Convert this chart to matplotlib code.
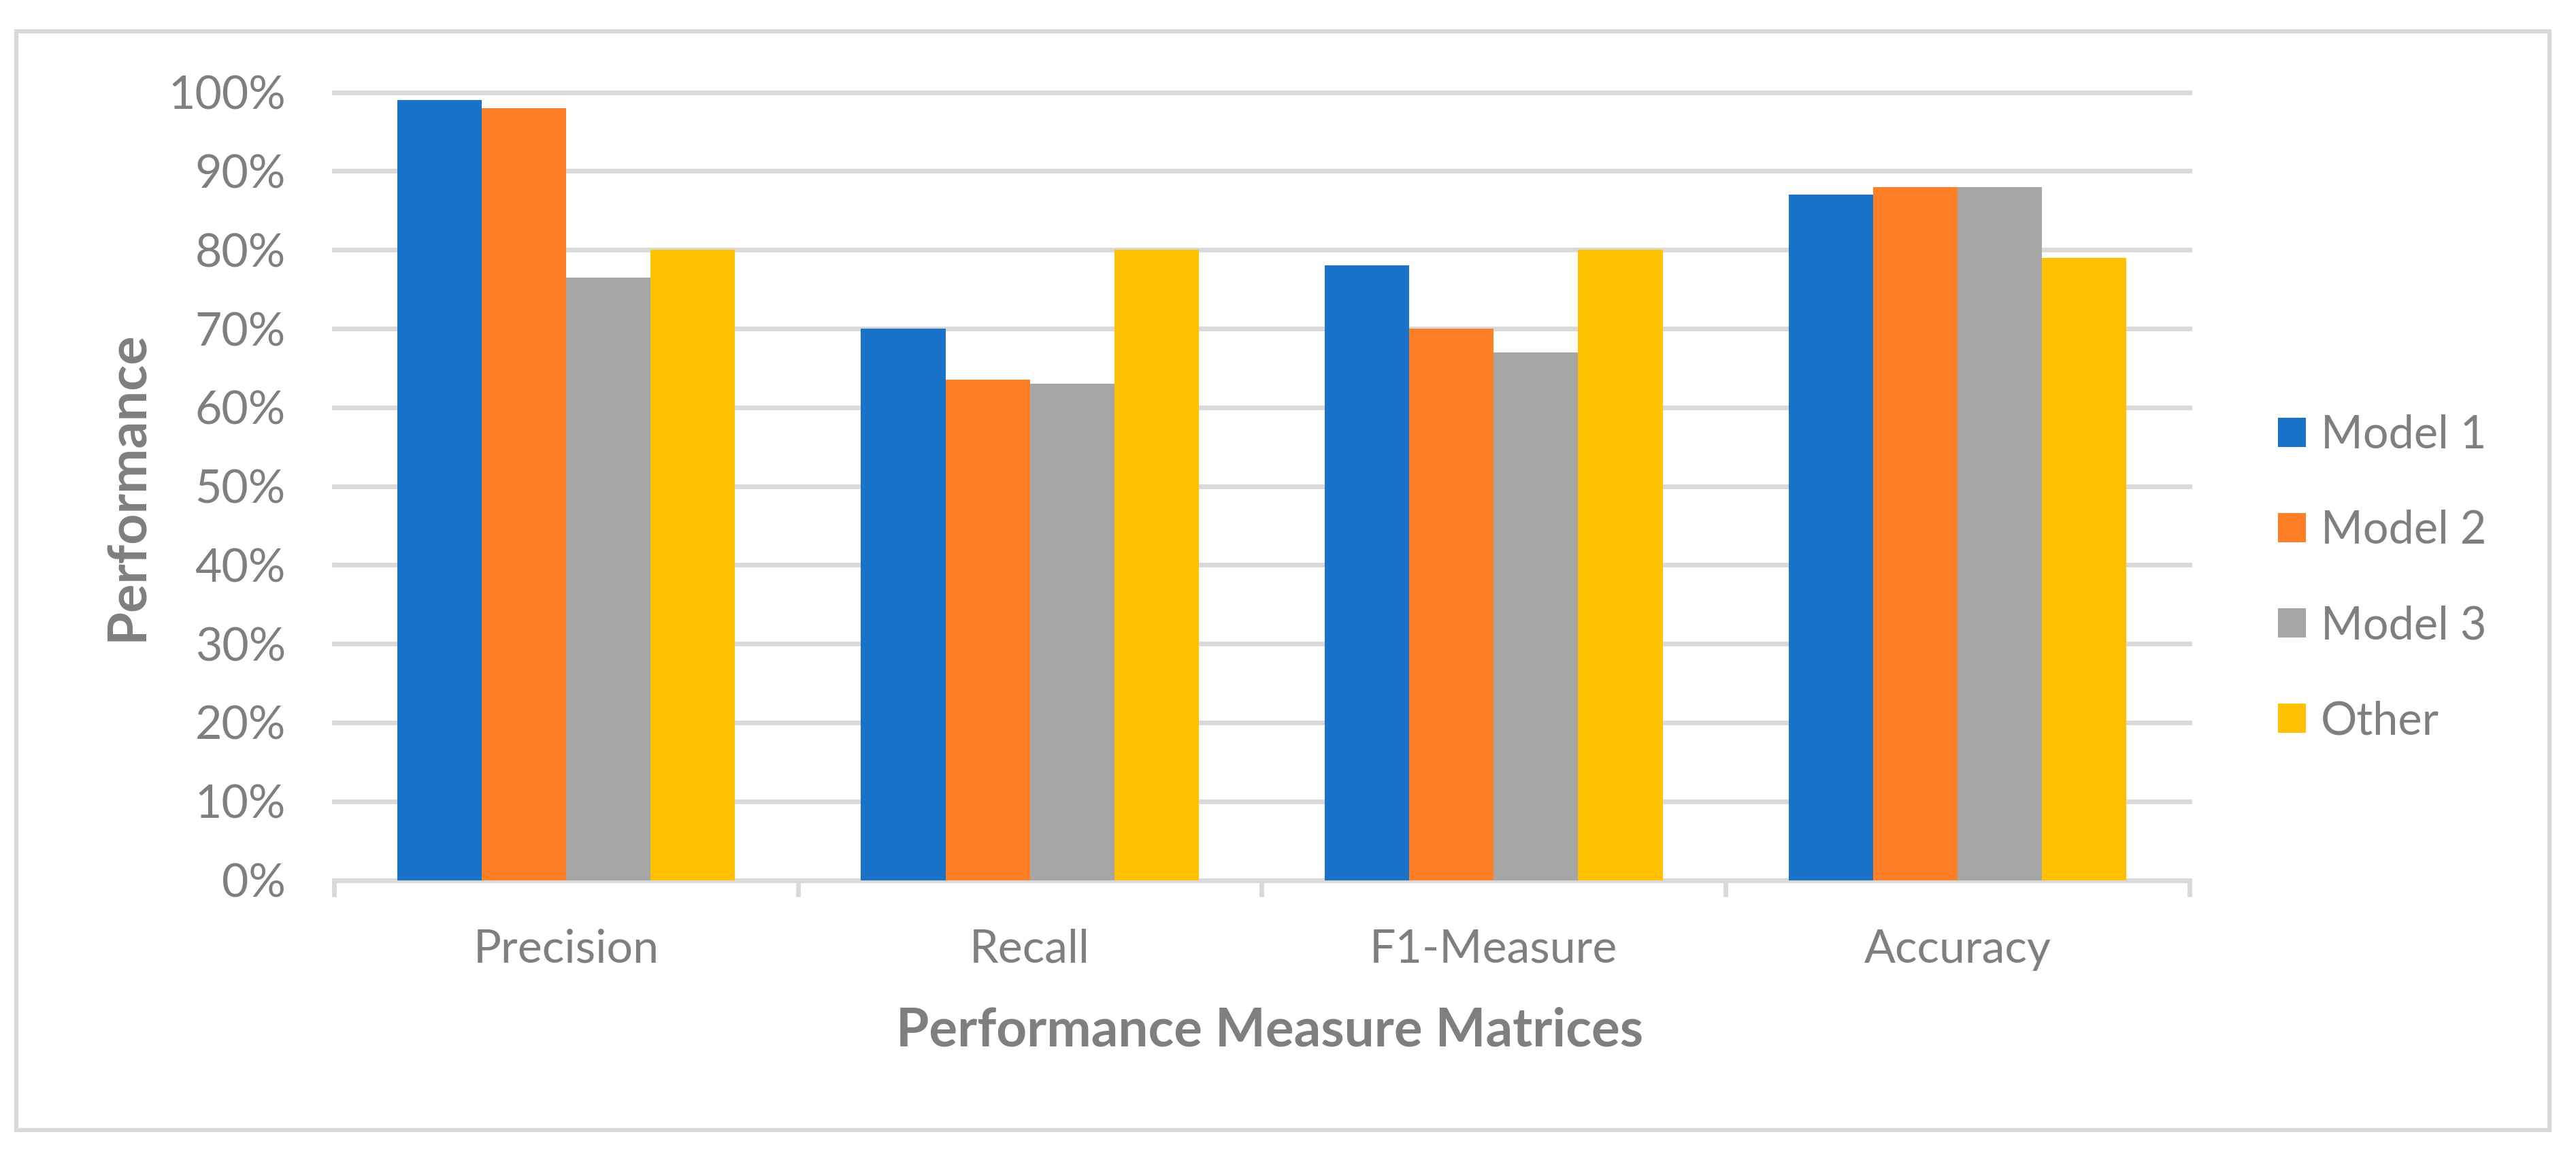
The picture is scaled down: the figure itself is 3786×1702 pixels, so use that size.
import numpy as np, matplotlib
matplotlib.use("Agg")
import matplotlib.pyplot as plt
from matplotlib.patches import Rectangle

categories = ["Precision", "Recall", "F1-Measure", "Accuracy"]
series = ["Model 1", "Model 2", "Model 3", "Other"]
model1 = [0.99, 0.70, 0.78, 0.87]
model2 = [0.98, 0.635, 0.70, 0.88]
model3 = [0.765, 0.63, 0.67, 0.88]
other = [0.80, 0.80, 0.80, 0.79]
colors = ['#1873C9', '#FF7F27', '#A6A6A6', '#FFC000']
yticks = np.arange(0, 1.01, 0.1)

txt = '#7F7F7F'; grid = '#D9D9D9'
plt.rcParams['font.family'] = ['Lato', 'DejaVu Sans']

W, H = 3786, 1702
fig = plt.figure(figsize=(W/200, H/200), dpi=200)
ax = fig.add_axes([491/W, 1-1293.5/H, (3218-491)/W, (1293.5-135.7)/H])

x = np.arange(len(categories)); w = 0.182
for i, (vals, c, lab) in enumerate(zip([model1, model2, model3, other], colors, series)):
    ax.bar(x + (i-1.5)*w, vals, w, color=c, label=lab, linewidth=0, zorder=3)

ax.set_xlim(-0.5, len(categories)-0.5); ax.set_ylim(0, 1)
ax.set_yticks(yticks)
ax.set_yticklabels([f"{int(round(v*100))}%" for v in yticks])
ax.yaxis.grid(True, color=grid, lw=2.5)
for gl in ax.yaxis.get_gridlines(): gl.set_clip_on(False)
ax.set_axisbelow(True)
for s in ['top', 'right', 'left']: ax.spines[s].set_visible(False)
ax.spines['bottom'].set_color(grid); ax.spines['bottom'].set_linewidth(2.5)
ax.set_xticks(x); ax.set_xticklabels(categories)
ax.set_xticks(np.arange(-0.5, len(categories), 1), minor=True)
ax.tick_params(axis='x', which='major', length=0, pad=25.6, labelsize=24.5, labelcolor=txt)
ax.tick_params(axis='x', which='minor', length=8.8, width=2.5, color=grid)
ax.tick_params(axis='y', length=0, pad=25.6, labelsize=24.5, labelcolor=txt)

fig.text(188/W, 1-714/H, "Performance", rotation=90, ha='center', va='center',
         fontsize=28.5, fontweight='bold', color=txt)
fig.text(1866/W, 1-1537/H, "Performance Measure Matrices", ha='center', va='baseline',
         fontsize=28.2, fontweight='bold', color=txt)

leg = fig.legend(loc='center left', bbox_to_anchor=(3348/W, 1-850/H), frameon=False,
                 fontsize=24, handlelength=0.62, handleheight=0.62, handletextpad=0.33,
                 labelspacing=1.17, borderpad=0, borderaxespad=0)
for t in leg.get_texts(): t.set_color(txt)

fig.patches.append(Rectangle((23.5/W, 1-1661/H), (3747-23.5)/W, (1661-45.5)/H,
                             transform=fig.transFigure, fill=False, edgecolor=grid, lw=2.2))
fig.savefig("out.png", dpi=200)
